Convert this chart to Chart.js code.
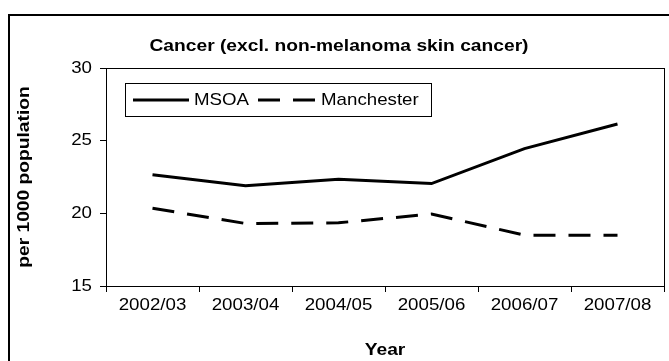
<!DOCTYPE html>
<html>
<head>
<meta charset="utf-8">
<script src="https://cdn.jsdelivr.net/npm/chart.js@4.4.0/dist/chart.umd.min.js"></script>
<style>
  html, body { margin: 0; padding: 0; background: #fff; }
  #wrap { width: 669px; height: 361px; position: relative; }
</style>
</head>
<body>
<div id="wrap"><canvas id="grafica" width="669" height="361"></canvas></div>
<script>
const categorias = ['2002/03', '2003/04', '2004/05', '2005/06', '2006/07', '2007/08'];
const msoa = [22.65, 21.9, 22.35, 22.05, 24.45, 26.15];
const manchester = [20.35, 19.3, 19.35, 19.95, 18.5, 18.5];
const yTicks = [15, 20, 25, 30];

// letra ancha, como en el gráfico de Excel
const STRETCH = 1.1;
const STRETCH_BOLD = 1.13;
const FONT = "'Liberation Sans', Arial, sans-serif";
const DASH = [22, 13];

// estira el texto en horizontal sin tocar las líneas
const textoAncho = {
    id: 'textoAncho',
    beforeInit(chart) {
        const ctx = chart.ctx;
        const fill = ctx.fillText;
        ctx.fillText = function (t, x, y, maxW) {
            const s = this.font.indexOf('bold') >= 0 ? STRETCH_BOLD : STRETCH;
            this.save();
            this.translate(x, y);
            this.scale(s, 1);
            fill.call(this, t, 0, 0);
            this.restore();
        };
    }
};

// marco del área de trazado, marco exterior y leyenda
const marcos = {
    id: 'marcos',
    afterDraw(chart) {
        const ctx = chart.ctx;
        const a = chart.chartArea;
        ctx.save();
        ctx.strokeStyle = '#000';
        ctx.lineWidth = 1;
        ctx.strokeRect(Math.round(a.left) + 0.5, Math.round(a.top) + 0.5,
            Math.round(a.right - a.left), Math.round(a.bottom - a.top));

        ctx.lineWidth = 2;
        ctx.strokeRect(9, 15, 700, 400);

        // leyenda
        const lx = 125, ly = 83, lw = 306, lh = 33;
        ctx.lineWidth = 1;
        ctx.fillStyle = '#fff';
        ctx.fillRect(lx, ly, lw, lh);
        ctx.strokeRect(lx + 0.5, ly + 0.5, lw, lh);
        const cy = ly + lh / 2 + 0.5;
        const sets = chart.data.datasets;
        const items = [
            { x0: 133, x1: 189, tx: 194, ds: sets[0] },
            { x0: 258, x1: 315, tx: 321, ds: sets[1] }
        ];
        items.forEach(it => {
            ctx.strokeStyle = it.ds.borderColor;
            ctx.lineWidth = it.ds.borderWidth;
            ctx.setLineDash(it.ds.borderDash || []);
            ctx.lineDashOffset = 0;
            ctx.beginPath();
            ctx.moveTo(it.x0, cy);
            ctx.lineTo(it.x1, cy);
            ctx.stroke();
            ctx.setLineDash([]);
            ctx.fillStyle = '#000';
            ctx.font = '17px ' + FONT;
            ctx.textAlign = 'left';
            ctx.textBaseline = 'middle';
            ctx.fillText(it.ds.label, it.tx, cy);
        });
        ctx.restore();
    }
};

const ctx = document.getElementById('grafica').getContext('2d');
new Chart(ctx, {
    type: 'line',
    data: {
        labels: categorias,
        datasets: [
            {
                label: 'MSOA',
                data: msoa,
                borderColor: '#000',
                borderWidth: 3,
                pointRadius: 0,
                tension: 0
            },
            {
                label: 'Manchester',
                data: manchester,
                borderColor: '#000',
                borderWidth: 3,
                borderDash: DASH,
                pointRadius: 0,
                tension: 0
            }
        ]
    },
    options: {
        responsive: false,
        animation: false,
        events: [],
        layout: { padding: { left: 14, right: 5, top: 0, bottom: 0 } },
        plugins: {
            legend: { display: false },
            tooltip: { enabled: false },
            title: {
                display: true,
                text: 'Cancer (excl. non-melanoma skin cancer)',
                color: '#000',
                font: { family: FONT, size: 17, weight: 'bold' },
                padding: { top: 36, bottom: 11.6 }
            }
        },
        scales: {
            x: {
                offset: true,
                grid: {
                    offset: true,
                    drawOnChartArea: false,
                    drawTicks: true,
                    tickLength: 6,
                    color: '#000'
                },
                border: { display: true, color: '#000' },
                ticks: {
                    color: '#000',
                    padding: 3,
                    maxRotation: 0,
                    autoSkip: false,
                    font: { family: FONT, size: 17 }
                },
                title: {
                    display: true,
                    text: 'Year',
                    color: '#000',
                    padding: 0,
                    font: { family: FONT, size: 17, weight: 'bold' }
                },
                afterFit(scale) { scale.height = 75; }
            },
            y: {
                min: 15,
                max: 30,
                afterBuildTicks(scale) {
                    scale.ticks = yTicks.map(v => ({ value: v }));
                },
                grid: {
                    drawOnChartArea: false,
                    drawTicks: true,
                    tickLength: 6,
                    color: '#000'
                },
                border: { display: true, color: '#000' },
                ticks: {
                    color: '#000',
                    padding: 8,
                    font: { family: FONT, size: 17 }
                },
                title: {
                    display: true,
                    text: 'per 1000 population',
                    color: '#000',
                    padding: 0,
                    font: { family: FONT, size: 17, weight: 'bold' }
                },
                afterFit(scale) { scale.width = 92; }
            }
        }
    },
    plugins: [textoAncho, marcos]
});
</script>
</body>
</html>
